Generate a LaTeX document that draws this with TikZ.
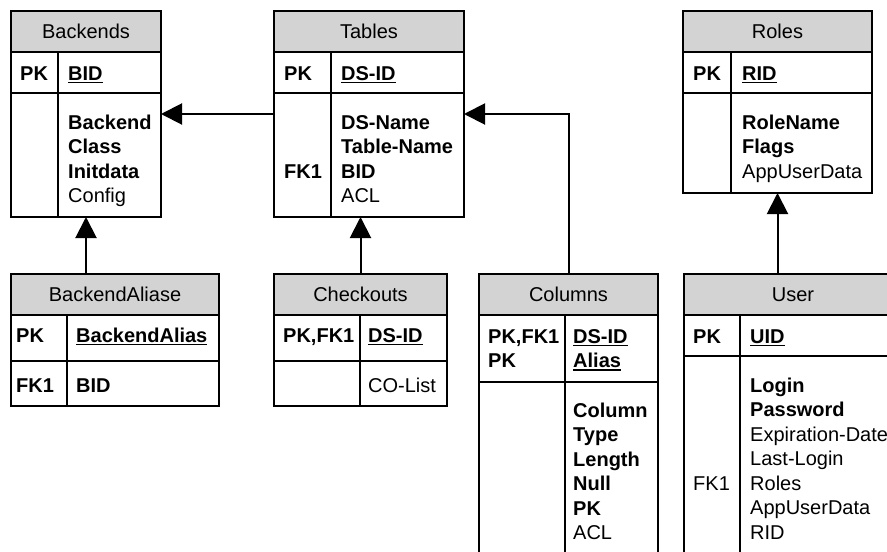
\documentclass[tikz,border=0pt]{standalone}
\usepackage{fontspec}
\setmainfont{Liberation Sans}
\usetikzlibrary{arrows.meta}
\definecolor{hdrgray}{RGB}{211,211,211}

% bold, underlined primary-key field name
\newcommand\keyul[1]{\setbox0\hbox{\textbf{#1}}\rlap{\rule[-3.2pt]{\wd0}{1.4pt}}\box0}

\tikzset{
  tblframe/.style={draw, line width=1.3pt, rectangle, inner sep=0pt, outer sep=0pt, anchor=north west},
  rowline/.style={line width=1.3pt},
  txt/.style={inner sep=0pt, font=\fontsize{20}{24.5}\selectfont},
  tbltitle/.style={txt, anchor=base},
  fld/.style={txt, anchor=base west},
  conn/.style={line width=2pt, -{Triangle[length=21pt,width=21pt]}},
}

% #1 name, #2 left, #3 top, #4 right, #5 bottom,
% #6 header bottom, #7 key-row bottom, #8 column divider, #9 title
\newcommand\erdtable[9]{%
  \fill[hdrgray] (#2,#3) rectangle (#4,#6);
  \draw[rowline] (#2,#6) -- (#4,#6) (#2,#7) -- (#4,#7) (#8,#6) -- (#8,#5);
  \node[tblframe, minimum width={#4-#2}, minimum height={#5-#3}] (#1) at (#2,#3) {};
  \node[tbltitle] (#1-title) at ({(#2+#4)/2},{#3+27}) {#9};
}

\begin{document}
\begin{tikzpicture}[x=1pt,y=-1pt]
\useasboundingbox (0,0) rectangle (887,552);
\clip (0,0) rectangle (887,552);

% ---- entity boxes
\erdtable{backends}{11}{11}{161}{217}{52}{93}{58}{Backends}
\erdtable{tables}{274}{11}{464}{217}{52}{93}{331}{Tables}
\erdtable{roles}{683}{11}{872}{193}{52}{93}{731}{Roles}
\erdtable{aliase}{11}{274}{219}{406}{315}{361}{67}{BackendAliase}
\erdtable{checkouts}{274}{274}{447}{406}{315}{361}{360}{Checkouts}
\erdtable{columns}{479}{274}{658}{580}{315}{382}{565}{Columns}
\erdtable{user}{684}{274}{902}{580}{315}{356}{740}{User}

% ---- Backends
\node[fld] (backends-k1) at (20,80) {\textbf{PK}};
\node[fld] (backends-f1) at (68,80) {\keyul{BID}};
\foreach [count=\i] \t in {\textbf{Backend},\textbf{Class},\textbf{Initdata},Config}
  \node[fld] (backends-b\i) at (68,{129+(\i-1)*24.5}) {\t};

% ---- Tables
\node[fld] (tables-k1) at (284,80) {\textbf{PK}};
\node[fld] (tables-f1) at (341,80) {\keyul{DS-ID}};
\node[fld] (tables-k2) at (284,178) {\textbf{FK1}};
\foreach [count=\i] \t in {\textbf{DS-Name},\textbf{Table-Name},\textbf{BID},ACL}
  \node[fld] (tables-b\i) at (341,{129+(\i-1)*24.5}) {\t};

% ---- Roles
\node[fld] (roles-k1) at (693,80) {\textbf{PK}};
\node[fld] (roles-f1) at (742,80) {\keyul{RID}};
\foreach [count=\i] \t in {\textbf{RoleName},\textbf{Flags},AppUserData}
  \node[fld] (roles-b\i) at (742,{129+(\i-1)*24.5}) {\t};

% ---- BackendAliase
\node[fld] (aliase-k1) at (16,342) {\textbf{PK}};
\node[fld] (aliase-f1) at (76,342) {\keyul{BackendAlias}};
\node[fld] (aliase-k2) at (16,392) {\textbf{FK1}};
\node[fld] (aliase-f2) at (76,392) {\textbf{BID}};

% ---- Checkouts
\node[fld] (checkouts-k1) at (283,342) {\textbf{PK,FK1}};
\node[fld] (checkouts-f1) at (368,342) {\keyul{DS-ID}};
\node[fld] (checkouts-f2) at (368,392) {CO-List};

% ---- Columns
\node[fld] (columns-k1) at (488,343) {\textbf{PK,FK1}};
\node[fld] (columns-k2) at (488,367.5) {\textbf{PK}};
\node[fld] (columns-f1) at (573,343) {\keyul{DS-ID}};
\node[fld] (columns-f2) at (573,367.5) {\keyul{Alias}};
\foreach [count=\i] \t in {\textbf{Column},\textbf{Type},\textbf{Length},\textbf{Null},\textbf{PK},ACL}
  \node[fld] (columns-b\i) at (573,{417+(\i-1)*24.5}) {\t};

% ---- User
\node[fld] (user-k1) at (693,343) {\textbf{PK}};
\node[fld] (user-f1) at (750,343) {\keyul{UID}};
\node[fld] (user-k2) at (693,490) {FK1};
\foreach [count=\i] \t in {\textbf{Login},\textbf{Password},Expiration-Date,Last-Login,Roles,AppUserData,RID}
  \node[fld] (user-b\i) at (750,{392+(\i-1)*24.5}) {\t};

% ---- relationships
\draw[conn] (tables.west) -- (backends.east);
\draw[conn] (backends.south |- aliase.north) -- (backends.south);
\draw[conn] (checkouts.north) -- (checkouts.north |- tables.south);
\draw[conn] (columns.north) |- (tables.east);
\draw[conn] (roles.south |- user.north) -- (roles.south);
\end{tikzpicture}
\end{document}
